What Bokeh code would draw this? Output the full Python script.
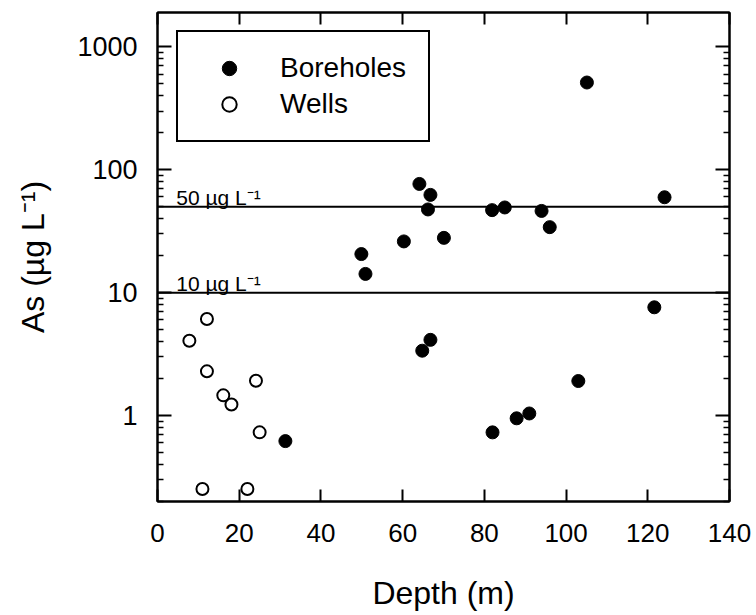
from bokeh.plotting import figure
from bokeh.models import (Range1d, FixedTicker, LinearAxis, LogAxis, Span, Label,
                          CustomJSTickFormatter)
from bokeh.embed import file_html
from bokeh.resources import INLINE

# ---- data ----
wells_depth = [7.8, 12.1, 12.1, 16.1, 18.1, 24.1, 25.0, 11.0, 22.0]
wells_as = [4.06, 6.1, 2.29, 1.46, 1.23, 1.92, 0.73, 0.253, 0.253]

bore_depth = [31.3, 49.9, 50.9, 60.3, 64.1, 66.8, 66.2, 70.1, 81.9, 85.0, 94.0,
              96.0, 105.1, 124.1, 121.6, 64.8, 66.8, 103.0, 82.0, 87.9, 91.0]
bore_as = [0.62, 20.6, 14.2, 26.1, 76.6, 62.4, 47.5, 27.9, 46.9, 49.3, 46.2,
           34.1, 512, 59.7, 7.6, 3.37, 4.13, 1.91, 0.73, 0.95, 1.04]

limits = [50, 10]
limit_labels = ["50 µg L⁻¹", "10 µg L⁻¹"]

x_ticks = [0, 20, 40, 60, 80, 100, 120, 140]
y_ticks = [1, 10, 100, 1000]
y_tick_labels = ["1", "10", "100", "1000"]
y_minor = [m * 10.0 ** k for k in range(-1, 3) for m in range(2, 10)]

FONT = "Liberation Sans"

p = figure(width=756, height=615, output_backend="svg", toolbar_location=None,
           x_range=Range1d(0, 140), y_range=Range1d(0.2, 1900), y_axis_type="log",
           min_border_left=157, min_border_right=27, min_border_top=12,
           min_border_bottom=114)
p.background_fill_color = "white"
p.border_fill_color = "white"
p.outline_line_color = "black"
p.outline_line_width = 2
p.outline_line_alpha = 1
p.xgrid.visible = False
p.ygrid.visible = False

yt = FixedTicker(ticks=y_ticks, minor_ticks=y_minor)
xt = FixedTicker(ticks=x_ticks, minor_ticks=[])

def style(ax, major_len):
    ax.axis_line_color = "black"
    ax.axis_line_width = 2
    ax.major_tick_in = major_len
    ax.major_tick_out = 0
    ax.major_tick_line_color = "black"
    ax.major_tick_line_width = 2
    ax.minor_tick_in = 6
    ax.minor_tick_out = 0
    ax.minor_tick_line_color = "black"
    ax.minor_tick_line_width = 1.5
    ax.major_label_text_font = FONT
    ax.major_label_text_color = "black"
    ax.axis_label_text_font = FONT
    ax.axis_label_text_color = "black"
    ax.axis_label_text_font_style = "normal"

# bottom x axis
xa = p.xaxis[0]
xa.ticker = xt
style(xa, 12)
xa.major_label_text_font_size = "26px"
xa.major_label_standoff = 22
xa.axis_label = "Depth (m)"
xa.axis_label_text_font_size = "32px"
xa.axis_label_standoff = 30

# left y axis
ya = p.yaxis[0]
ya.ticker = yt
style(ya, 14)
ya.major_label_overrides = {t: l for t, l in zip(y_ticks, y_tick_labels)}
ya.major_label_text_font_size = "27px"
ya.major_label_standoff = 20
ya.axis_label = "As (µg L⁻¹)"
ya.axis_label_text_font_size = "32px"
ya.axis_label_standoff = 23

top = LinearAxis(ticker=xt, formatter=CustomJSTickFormatter(code="return ''"))
style(top, 12)
p.add_layout(top, "above")
right = LogAxis(ticker=yt, formatter=CustomJSTickFormatter(code="return ''"))
style(right, 14)
p.add_layout(right, "right")

# limit lines
for v, txt in zip(limits, limit_labels):
    p.add_layout(Span(location=v, dimension="width", line_color="black", line_width=2))
    p.add_layout(Label(x=4.6, y=v, y_offset=9, text=txt, text_font=FONT,
                       text_font_size="21px", text_color="black",
                       text_baseline="alphabetic"))

# points
p.scatter(bore_depth, bore_as, size=13, marker="circle", fill_color="black",
          line_color="black", line_width=1, legend_label="Boreholes")
p.scatter(wells_depth, wells_as, size=12, marker="circle", fill_color="white",
          line_color="black", line_width=2, legend_label="Wells")

lg = p.legend[0]
lg.location = (19, 359)
lg.label_text_font = FONT
lg.label_text_font_size = "28px"
lg.label_text_color = "black"
lg.label_height = 36
lg.label_width = 130
lg.glyph_height = 36
lg.glyph_width = 66
lg.label_standoff = 18
lg.spacing = 0
lg.padding = 18
lg.margin = 0
lg.border_line_color = "black"
lg.border_line_alpha = 1
lg.border_line_width = 2
lg.background_fill_alpha = 1
lg.background_fill_color = "white"

open("out.html", "w").write(file_html(p, INLINE))
